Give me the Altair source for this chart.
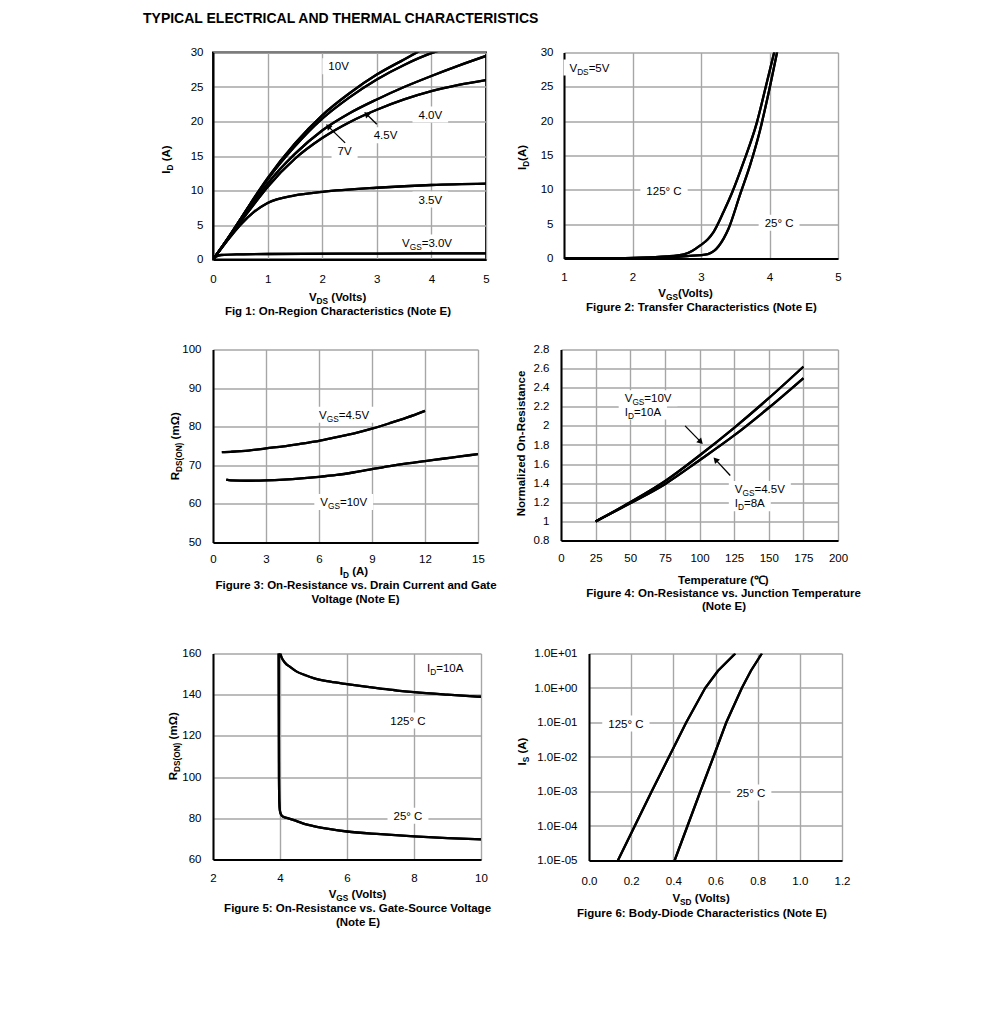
import math
import altair as alt
import pandas as pd

FONT = "Liberation Sans"
GRID = "#a6a6a6"
FS = 11.5
SUBS = 0.72
SUBSHIFT = 0.26

# ---------------- data ----------------
# Fig 1: On-region characteristics
F1_10V_X = [0, 0.25, 0.5, 0.75, 1, 1.5, 2, 2.5, 3, 3.5, 3.8]
F1_10V_Y = [0, 2.8, 5.8, 8.9, 11.8, 16.8, 20.9, 24.1, 26.8, 29.0, 30.3]
F1_7V_X = [0, 0.25, 0.5, 0.75, 1, 1.5, 2, 2.5, 3, 3.5, 4, 4.15]
F1_7V_Y = [0, 2.8, 5.8, 8.8, 11.6, 16.4, 20.4, 23.5, 26.1, 28.2, 29.9, 30.3]
F1_45V_X = [0, 0.25, 0.5, 0.75, 1, 1.5, 2, 2.5, 3, 3.5, 4, 4.5, 5]
F1_45V_Y = [0, 2.8, 5.6, 8.4, 11.0, 15.3, 18.7, 21.2, 23.2, 25.0, 26.6, 28.1, 29.5]
F1_40V_X = [0, 0.25, 0.5, 0.75, 1, 1.5, 2, 2.5, 3, 3.5, 4, 4.5, 5]
F1_40V_Y = [0, 2.7, 5.4, 8.0, 10.5, 14.6, 17.6, 19.9, 21.7, 23.2, 24.4, 25.3, 26.0]
F1_35V_X = [0, 0.25, 0.5, 0.75, 1, 1.5, 2, 3, 4, 5]
F1_35V_Y = [0, 2.6, 5.0, 6.9, 8.2, 9.3, 9.8, 10.4, 10.8, 11.0]
F1_30V_X = [0, 0.05, 0.15, 0.5, 1, 3, 5]
F1_30V_Y = [0, 0.4, 0.65, 0.75, 0.8, 0.85, 0.9]

# Fig 2: Transfer characteristics
F2_125_X = [1, 1.5, 2, 2.5, 2.75, 2.87, 2.99, 3.1, 3.18, 3.33, 3.45, 3.62, 3.81, 3.96, 4.08]
F2_125_Y = [0, 0.02, 0.1, 0.3, 0.6, 1.1, 1.9, 2.8, 3.8, 6.8, 9.5, 14.0, 19.6, 25.6, 30.5]
F2_25_X = [1, 2, 2.4, 2.8, 3.1, 3.19, 3.33, 3.4, 3.57, 3.72, 3.86, 3.98, 4.12]
F2_25_Y = [0, 0.02, 0.1, 0.35, 0.65, 1.1, 2.9, 4.3, 9.3, 13.7, 18.6, 23.8, 30.5]

# Fig 3: On-resistance vs drain current
F3_45_X = [0.5, 1, 2, 3, 4, 5, 6, 7, 8, 9, 10, 11, 12]
F3_45_Y = [73.4, 73.5, 73.8, 74.4, 74.9, 75.6, 76.3, 77.3, 78.3, 79.5, 80.9, 82.4, 84.1]
F3_10_X = [0.75, 1, 2, 3, 4, 5, 6, 7, 8, 9, 10, 11, 12, 13, 14, 15]
F3_10_Y = [66.3, 66.1, 66.0, 66.1, 66.3, 66.6, 67.0, 67.5, 68.2, 69.0, 69.8, 70.5, 71.1, 71.7, 72.3, 72.9]

# Fig 4: Normalized on-resistance vs temperature
F4_T = [25, 50, 75, 100, 125, 150, 175]
F4_10V = [1.0, 1.2, 1.42, 1.69, 1.98, 2.29, 2.62]
F4_45V = [1.0, 1.19, 1.39, 1.64, 1.90, 2.19, 2.50]

# Fig 5: On-resistance vs gate-source voltage
F5_125_X = [3.99, 4.05, 4.15, 4.3, 4.5, 4.75, 5, 5.5, 6, 6.5, 7, 7.5, 8, 9, 10]
F5_125_Y = [161, 158, 155.5, 153.5, 151.2, 149.5, 148, 146.3, 145.1, 144, 143, 142, 141.2, 140, 139]
F5_25_X = [3.96, 3.965, 3.97, 3.98, 3.995, 4.03, 4.1, 4.25, 4.5, 4.75, 5, 5.5, 6, 7, 8, 9, 10]
F5_25_Y = [161, 130, 100, 88, 84, 81.8, 80.7, 80.0, 78.6, 77.2, 76.2, 74.7, 73.6, 72.3, 71.2, 70.4, 69.8]

# Fig 6: Body diode (log10 of Is)
F6_125_X = [0.137, 0.217, 0.297, 0.379, 0.461, 0.551, 0.612, 0.694]
F6_125_LOG = [-5, -4, -3, -2, -1, 0, 0.5, 1]
F6_25_X = [0.406, 0.467, 0.528, 0.59, 0.651, 0.725, 0.768, 0.82]
F6_25_LOG = [-5, -4, -3, -2, -1, 0, 0.5, 1]

# ---------------- text metrics (Arial / Liberation Sans) ----------------
REG = {' ': 278, '(': 333, ')': 333, '+': 584, '-': 333, '.': 278, ':': 278, '=': 584,
       '°': 400, 'Ω': 768, 'A': 667, 'B': 667, 'C': 722, 'D': 722, 'E': 667, 'F': 611,
       'G': 778, 'H': 722, 'I': 278, 'L': 556, 'M': 833, 'N': 722, 'O': 778, 'R': 722,
       'S': 667, 'T': 611, 'V': 667, 'a': 556, 'c': 500, 'd': 556, 'e': 556, 'g': 556,
       'h': 556, 'i': 222, 'l': 222, 'm': 833, 'n': 556, 'o': 556, 'r': 333, 's': 500,
       't': 278, 'u': 556, 'v': 500, 'y': 500, 'z': 500}
BOLD = {' ': 278, '(': 333, ')': 333, '-': 333, '.': 278, ':': 333, '=': 584, '°': 400,
        'Ω': 768, '℃': 1000, 'A': 722, 'B': 722, 'C': 722, 'D': 722, 'E': 667, 'F': 611,
        'G': 778, 'H': 722, 'I': 278, 'J': 556, 'L': 611, 'M': 833, 'N': 722, 'O': 778,
        'P': 667, 'R': 722, 'S': 667, 'T': 611, 'V': 667, 'Y': 667, 'a': 556, 'c': 556,
        'd': 611, 'e': 556, 'g': 611, 'h': 611, 'i': 278, 'l': 278, 'm': 889, 'n': 611,
        'o': 611, 'p': 611, 'r': 389, 's': 556, 't': 333, 'u': 611, 'v': 556, 'y': 556,
        'z': 500}


def tw(s, size, bold):
    tab = BOLD if bold else REG
    return sum(tab.get(c, 556) for c in s) * size / 1000.0


ONE = alt.Data(values=[{"k": 1}])
CTX = {}


def dX(v):
    return alt.datum(v, scale=CTX["xs"], axis=CTX["xa"])


def dY(v):
    return alt.datum(v, scale=CTX["ys"], axis=CTX["ya"])


def rich(parts, ax, ay, size=FS, bold=False, align="center", angle=0, mode="px", vcenter=True):
    ps = []
    for t, s in parts:
        fs = size * SUBS if s else size
        core = t.lstrip(" ")
        lead = tw(t[:len(t) - len(core)], fs, bold)
        ps.append((core, s, fs, lead, tw(core, fs, bold)))
    total = sum(p[3] + p[4] for p in ps)
    cum = {"left": 0.0, "center": -total / 2, "right": -total}[align]
    base = 0.36 * size if vcenter else 0.0
    out = []
    for t, s, fs, lead, w in ps:
        cum += lead
        sh = SUBSHIFT * size if s else 0.0
        mk = dict(text=t, font=FONT, fontSize=fs, fontWeight="bold" if bold else "normal",
                  align="left", baseline="alphabetic", color="black")
        if mode == "px":
            if angle == 270:
                mk["angle"] = 270
                enc = dict(x=alt.value(ax + base + sh), y=alt.value(ay - cum))
            else:
                enc = dict(x=alt.value(ax + cum), y=alt.value(ay + base + sh))
        else:
            mk["dx"] = cum
            mk["dy"] = base + sh
            enc = dict(x=dX(ax), y=dY(ay))
        out.append(alt.Chart(ONE).mark_text(**mk).encode(**enc))
        cum += w
    return out, total


def box(ax, ay, left, right, h=16):
    return alt.Chart(ONE).mark_rect(color="white", xOffset=left, x2Offset=right,
                                     yOffset=-h / 2, y2Offset=h / 2).encode(
        x=dX(ax), x2=alt.datum(ax), y=dY(ay), y2=alt.datum(ay))


def in_labels(labels, padx=6, h=16):
    boxes, texts = [], []
    for parts, ax, ay, align in labels:
        tl, total = rich(parts, ax, ay, align=align, mode="data")
        if align == "center":
            boxes.append(box(ax, ay, -total / 2 - padx, total / 2 + padx, h))
        else:
            boxes.append(box(ax, ay, -padx, total + padx, h))
        texts += tl
    return boxes, texts


def arrow(x0, y0, x1, y1, sx, sy):
    dxp = (x1 - x0) * sx
    dyp = -(y1 - y0) * sy
    L = math.hypot(dxp, dyp)
    ux, uy = dxp / L, dyp / L
    ang = math.degrees(math.atan2(ux, -uy)) % 360
    cx = x1 - 3.0 * ux / sx
    cy = y1 + 3.0 * uy / sy
    rule = alt.Chart(ONE).mark_rule(color="black", strokeWidth=1.3).encode(
        x=dX(x0), y=dY(y0), x2=alt.datum(cx), y2=alt.datum(cy))
    head = alt.Chart(ONE).mark_point(shape="triangle-up", filled=True, color="black",
                                     opacity=1, size=45, angle=ang).encode(
        x=dX(cx), y=dY(cy))
    return [rule, head]


def series_df(series):
    rows = []
    for name, xs, ys in series:
        for i, (x, y) in enumerate(zip(xs, ys)):
            rows.append({"s": name, "x": x, "y": y, "o": i})
    return pd.DataFrame(rows)


def axis(values, pad, fmt=None, expr=None):
    kw = dict(values=values, title=None, grid=True, labelPadding=pad)
    if fmt:
        kw["format"] = fmt
    if expr:
        kw["labelExpr"] = expr
    return alt.Axis(**kw)


def setup(xd, yd, xa, ya, ylog=False):
    CTX["xs"] = alt.Scale(domain=xd, nice=False, zero=False)
    CTX["ys"] = alt.Scale(type="log", domain=yd, nice=False) if ylog else alt.Scale(domain=yd, nice=False, zero=False)
    CTX["xa"] = xa
    CTX["ya"] = ya


def line_layer(df, interp="monotone"):
    return alt.Chart(df).mark_line(color="black", strokeWidth=2.3, interpolate=interp, clip=True).encode(
        x=alt.X("x:Q", scale=CTX["xs"], axis=CTX["xa"]),
        y=alt.Y("y:Q", scale=CTX["ys"], axis=CTX["ya"]),
        detail="s:N", order="o:Q")


def caption(lines, cx, cy, lh=13.5):
    out = []
    for i, ln in enumerate(lines):
        out += rich([(ln, 0)], cx, cy + i * lh, bold=True)[0]
    return out


def panel(w, h, lines, labels, arrows, extra, view=None):
    boxes, texts = in_labels(labels)
    ch = alt.layer(*([lines] + boxes + [lines] + arrows + texts + extra))
    props = dict(width=w, height=h)
    if view is not None:
        props["view"] = view
    return ch.properties(**props)


# ---------------- Panel 1 ----------------
W1, H1 = 273, 207
setup([0, 5], [0, 30], axis([0, 1, 2, 3, 4, 5], 14), axis([0, 5, 10, 15, 20, 25, 30], 10))
df1 = series_df([("10V", F1_10V_X, F1_10V_Y), ("7V", F1_7V_X, F1_7V_Y), ("4.5V", F1_45V_X, F1_45V_Y),
                 ("4.0V", F1_40V_X, F1_40V_Y), ("3.5V", F1_35V_X, F1_35V_Y), ("3.0V", F1_30V_X, F1_30V_Y)])
l1 = line_layer(df1)
lab1 = [([("10V", 0)], 2.30, 28.0, "center"),
        ([("4.0V", 0)], 3.98, 21.0, "center"),
        ([("4.5V", 0)], 3.16, 18.0, "center"),
        ([("7V", 0)], 2.41, 15.7, "center"),
        ([("3.5V", 0)], 3.98, 8.7, "center"),
        ([("V", 0), ("GS", 1), ("=3.0V", 0)], 3.92, 2.45, "center")]
arr1 = arrow(2.42, 16.9, 2.07, 19.6, W1 / 5, H1 / 30) + arrow(3.0, 19.6, 2.77, 21.4, W1 / 5, H1 / 30)
ext1 = []
ext1 += rich([("TYPICAL ELECTRICAL AND THERMAL CHARACTERISTICS", 0)], -70, -29.3, size=14, bold=True,
             align="left", vcenter=False)[0]
ext1 += rich([("V", 0), ("DS", 1), (" (Volts)", 0)], 125, 244.5, bold=True)[0]
ext1 += caption(["Fig 1: On-Region Characteristics (Note E)"], 125, 258)
ext1 += rich([("I", 0), ("D", 1), (" (A)", 0)], -47, 107, bold=True, angle=270)[0]
p1 = panel(W1, H1, l1, lab1, arr1, ext1, view=alt.ViewBackground(stroke="black", strokeWidth=2))

# ---------------- Panel 2 ----------------
W2, H2 = 274, 206
setup([1, 5], [0, 30], axis([1, 2, 3, 4, 5], 13), axis([0, 5, 10, 15, 20, 25, 30], 11))
df2 = series_df([("125C", F2_125_X, F2_125_Y), ("25C", F2_25_X, F2_25_Y)])
l2 = line_layer(df2)
lab2 = [([("V", 0), ("DS", 1), ("=5V", 0)], 1.08, 27.8, "left"),
        ([("125° C", 0)], 2.46, 9.9, "center"),
        ([("25° C", 0)], 4.14, 5.2, "center")]
ext2 = []
ext2 += rich([("V", 0), ("GS", 1), ("(Volts)", 0)], 122, 240.5, bold=True)[0]
ext2 += caption(["Figure 2: Transfer Characteristics (Note E)"], 139, 254.5)
ext2 += rich([("I", 0), ("D", 1), ("(A)", 0)], -42, 105, bold=True, angle=270)[0]
p2 = panel(W2, H2, l2, lab2, [], ext2)

# ---------------- Panel 3 ----------------
W3, H3 = 265, 193
setup([0, 15], [50, 100], axis([0, 3, 6, 9, 12, 15], 11), axis([50, 60, 70, 80, 90, 100], 12))
df3 = series_df([("4.5V", F3_45_X, F3_45_Y), ("10V", F3_10_X, F3_10_Y)])
l3 = line_layer(df3)
lab3 = [([("V", 0), ("GS", 1), ("=4.5V", 0)], 7.42, 83.1, "center"),
        ([("V", 0), ("GS", 1), ("=10V", 0)], 7.4, 60.5, "center")]
ext3 = []
ext3 += rich([("I", 0), ("D", 1), (" (A)", 0)], 141, 221.5, bold=True)[0]
ext3 += caption(["Figure 3: On-Resistance vs. Drain Current and Gate", "Voltage (Note E)"], 143, 235, lh=14)
ext3 += rich([("R", 0), ("DS(ON)", 1), (" (mΩ)", 0)], -38, 97, bold=True, angle=270)[0]
p3 = panel(W3, H3, l3, lab3, [], ext3)

# ---------------- Panel 4 ----------------
W4, H4 = 277, 191
setup([0, 200], [0.8, 2.8], axis([0, 25, 50, 75, 100, 125, 150, 175, 200], 12),
      axis([0.8, 1.0, 1.2, 1.4, 1.6, 1.8, 2.0, 2.2, 2.4, 2.6, 2.8], 12, fmt="~g"))
df4 = series_df([("10V", F4_T, F4_10V), ("4.5V", F4_T, F4_45V)])
l4 = line_layer(df4)
lab4 = [([("V", 0), ("GS", 1), ("=10V", 0)], 46, 2.29, "left"),
        ([("I", 0), ("D", 1), ("=10A", 0)], 46, 2.15, "left"),
        ([("V", 0), ("GS", 1), ("=4.5V", 0)], 125.5, 1.34, "left"),
        ([("I", 0), ("D", 1), ("=8A", 0)], 125.5, 1.19, "left")]
arr4 = arrow(89.6, 2.0, 102.4, 1.81, W4 / 200, H4 / 2) + arrow(122.2, 1.48, 110.1, 1.67, W4 / 200, H4 / 2)
ext4 = []
ext4 += rich([("Temperature (℃)", 0)], 163, 230, bold=True)[0]
ext4 += caption(["Figure 4: On-Resistance vs. Junction Temperature", "(Note E)"], 163, 243, lh=13)
ext4 += rich([("Normalized On-Resistance", 0)], -40.5, 94, bold=True, angle=270)[0]
p4 = panel(W4, H4, l4, lab4, arr4, ext4)

# ---------------- Panel 5 ----------------
W5, H5 = 268, 206
setup([2, 10], [60, 160], axis([2, 4, 6, 8, 10], 13), axis([60, 80, 100, 120, 140, 160], 12))
df5 = series_df([("125C", F5_125_X, F5_125_Y), ("25C", F5_25_X, F5_25_Y)])
l5 = line_layer(df5)
lab5 = [([("I", 0), ("D", 1), ("=10A", 0)], 8.39, 153.0, "left"),
        ([("125° C", 0)], 7.82, 127.5, "center"),
        ([("25° C", 0)], 7.82, 81.2, "center")]
ext5 = []
ext5 += rich([("V", 0), ("GS", 1), (" (Volts)", 0)], 145, 240.5, bold=True)[0]
ext5 += caption(["Figure 5: On-Resistance vs. Gate-Source Voltage", "(Note E)"], 145, 254.5, lh=13.5)
ext5 += rich([("R", 0), ("DS(ON)", 1), (" (mΩ)", 0)], -40, 93, bold=True, angle=270)[0]
p5 = panel(W5, H5, l5, lab5, [], ext5)

# ---------------- Panel 6 ----------------
W6, H6 = 253, 207
log_expr = ("'1.0E' + (round(log(datum.value)/LN10) < 0 ? '-' : '+') + "
            "(abs(round(log(datum.value)/LN10)) < 10 ? '0' : '') + abs(round(log(datum.value)/LN10))")
setup([0, 1.2], [1e-5, 10], axis([0, 0.2, 0.4, 0.6, 0.8, 1.0, 1.2], 15, fmt=".1f"),
      axis([1e-5, 1e-4, 1e-3, 1e-2, 1e-1, 1, 10], 12, expr=log_expr), ylog=True)
df6 = series_df([("125C", F6_125_X, [10 ** v for v in F6_125_LOG]),
                 ("25C", F6_25_X, [10 ** v for v in F6_25_LOG])])
l6 = line_layer(df6, interp="linear")
lab6 = [([("125° C", 0)], 0.175, 10 ** -1.03, "center"),
        ([("25° C", 0)], 0.768, 10 ** -3.03, "center")]
ext6 = []
ext6 += rich([("V", 0), ("SD", 1), (" (Volts)", 0)], 112.5, 244.5, bold=True)[0]
ext6 += caption(["Figure 6: Body-Diode Characteristics (Note E)"], 113, 259)
ext6 += rich([("I", 0), ("S", 1), (" (A)", 0)], -67, 98, bold=True, angle=270)[0]
p6 = panel(W6, H6, l6, lab6, [], ext6)

# rows: nested concat groups take no flush height, so spacing = row pitch
row1 = alt.hconcat(p1, p2, spacing=78, bounds="flush")
row2 = alt.hconcat(p3, p4, spacing=83, bounds="flush")
row3 = alt.hconcat(p5, p6, spacing=108, bounds="flush")
lower = alt.vconcat(row2, row3, spacing=304, bounds="flush")

chart = alt.vconcat(row1, lower, spacing=297, bounds="flush").properties(
    padding={"left": 134, "top": 2.5, "right": 5, "bottom": 5}
).configure_view(stroke="transparent").configure_axis(
    labelFont=FONT, labelFontSize=FS, labelColor="black", ticks=False,
    domainColor="black", domainWidth=2, gridColor=GRID, gridWidth=1.4,
    labelFlush=False, labelOverlap=False
)

chart.save("out.html", embed_options={"renderer": "svg", "actions": False})
